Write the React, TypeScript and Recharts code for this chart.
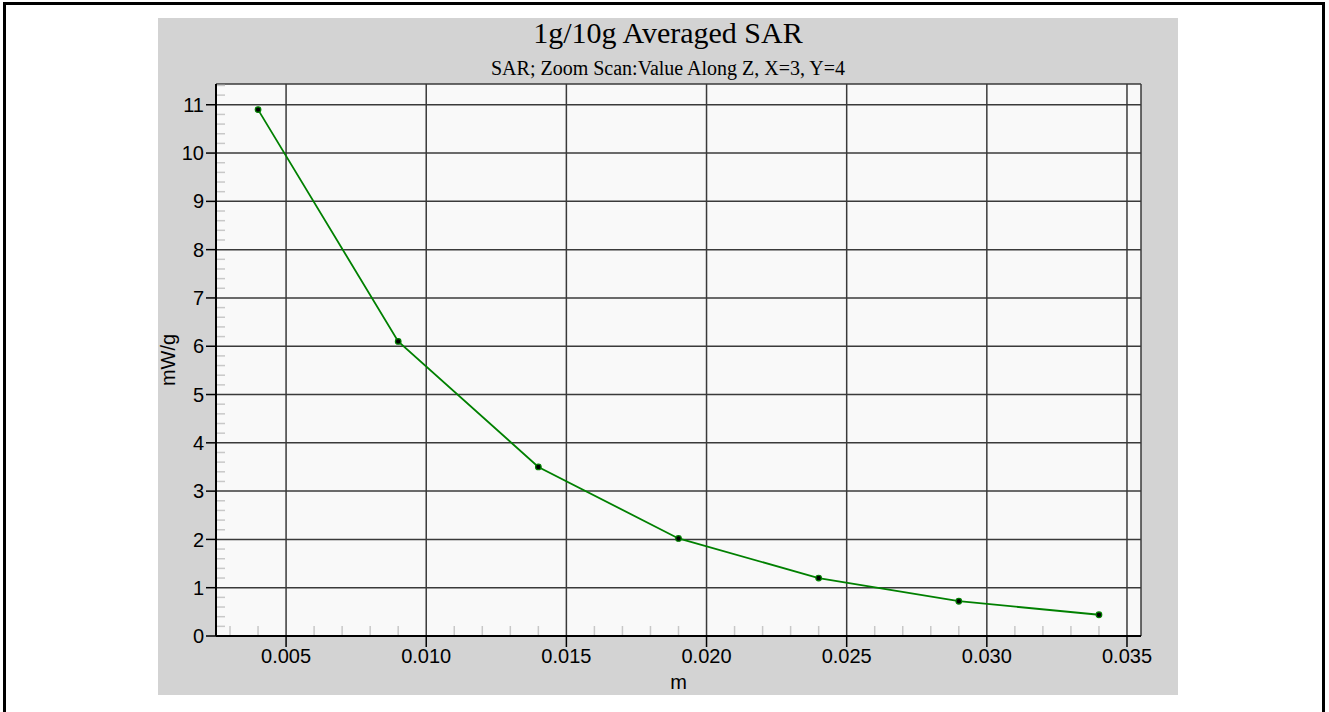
import React from 'react'
import { LineChart, Line, XAxis, YAxis, CartesianGrid } from 'recharts'

// distance along Z (m)
const zPos = [0.004, 0.009, 0.014, 0.019, 0.024, 0.029, 0.034]
// SAR (mW/g)
const sarValues = [10.9, 6.1, 3.5, 2.02, 1.2, 0.72, 0.44]

const xTicks = [0.005, 0.01, 0.015, 0.02, 0.025, 0.03, 0.035]
const xMinorTicks = [
  0.003, 0.004, 0.006, 0.007, 0.008, 0.009, 0.011, 0.012, 0.013, 0.014, 0.016, 0.017, 0.018, 0.019,
  0.021, 0.022, 0.023, 0.024, 0.026, 0.027, 0.028, 0.029, 0.031, 0.032, 0.033, 0.034,
]
const yTicks = [0, 1, 2, 3, 4, 5, 6, 7, 8, 9, 10, 11]
const yMinorTicks = [
  0.2, 0.4, 0.6, 0.8, 1.2, 1.4, 1.6, 1.8, 2.2, 2.4, 2.6, 2.8, 3.2, 3.4, 3.6, 3.8, 4.2, 4.4, 4.6, 4.8,
  5.2, 5.4, 5.6, 5.8, 6.2, 6.4, 6.6, 6.8, 7.2, 7.4, 7.6, 7.8, 8.2, 8.4, 8.6, 8.8, 9.2, 9.4, 9.6, 9.8,
  10.2, 10.4, 10.6, 10.8, 11.2, 11.4,
]

const xDomain = [0.0025, 0.0355]
const yDomain = [0, 11.43]

const data = zPos.map((x, i) => ({ x, sar: sarValues[i] }))

const SANS = '"Liberation Sans", Arial, sans-serif'
const SERIF = '"Liberation Serif", "Times New Roman", serif'
const tickStyle = { fontSize: 20, fill: '#000', fontFamily: SANS }
const minorStroke = '#c8c8c8'
const blank = () => ''

export default function App() {
  return (
    <div style={{ position: 'relative', width: 1329, height: 712, overflow: 'hidden', background: '#fff' }}>
      <style>{'body{margin:0}'}</style>
      <div
        style={{
          position: 'absolute',
          left: 3,
          top: 2,
          width: 1322,
          height: 730,
          border: '3px solid #000',
          boxSizing: 'border-box',
        }}
      />
      <div style={{ position: 'absolute', left: 158, top: 18, width: 1020, height: 677, background: '#d3d3d3' }}>
        <div
          style={{
            position: 'absolute',
            left: 0,
            top: 0,
            width: 1020,
            textAlign: 'center',
            fontFamily: SERIF,
            fontSize: 30,
            lineHeight: '30px',
            color: '#000',
          }}
        >
          1g/10g Averaged SAR
        </div>
        <div
          style={{
            position: 'absolute',
            left: 0,
            top: 40,
            width: 1020,
            textAlign: 'center',
            fontFamily: SERIF,
            fontSize: 20,
            lineHeight: '20px',
            color: '#000',
          }}
        >
          SAR; Zoom Scan:Value Along Z, X=3, Y=4
        </div>
        <LineChart
          width={1020}
          height={677}
          data={data}
          margin={{ top: 66, right: 37, left: 0, bottom: 0 }}
          style={{ position: 'absolute', left: 0, top: 0 }}
        >
          <CartesianGrid stroke="#3a3a3a" strokeWidth={1.5} fill="#f9f9f9" fillOpacity={1} />
          <XAxis
            xAxisId="minor"
            dataKey="x"
            type="number"
            domain={xDomain}
            allowDataOverflow
            ticks={xMinorTicks}
            interval={0}
            tickFormatter={blank}
            mirror
            tickSize={10}
            height={1}
            axisLine={false}
            tickLine={{ stroke: minorStroke, strokeWidth: 1.5 }}
          />
          <YAxis
            yAxisId="minor"
            type="number"
            domain={yDomain}
            allowDataOverflow
            ticks={yMinorTicks}
            interval={0}
            tickFormatter={blank}
            mirror
            tickSize={9}
            width={1}
            axisLine={false}
            tickLine={{ stroke: minorStroke, strokeWidth: 1.5 }}
          />
          <XAxis
            dataKey="x"
            type="number"
            domain={xDomain}
            allowDataOverflow
            ticks={xTicks}
            interval={0}
            tickFormatter={(v: number) => v.toFixed(3)}
            tick={tickStyle}
            tickSize={11}
            height={59}
            axisLine={{ stroke: '#000', strokeWidth: 2 }}
            tickLine={{ stroke: '#000', strokeWidth: 1.5 }}
            label={{
              content: (props: any) => {
                const vb = props.viewBox
                return (
                  <text x={vb.x + vb.width / 2} y={vb.y + 53} textAnchor="middle" fontSize={20} fontFamily={SANS} fill="#000">
                    m
                  </text>
                )
              },
            }}
          />
          <XAxis
            xAxisId="top"
            orientation="top"
            dataKey="x"
            type="number"
            domain={xDomain}
            allowDataOverflow
            height={0}
            tick={false}
            tickLine={false}
            axisLine={{ stroke: '#000', strokeWidth: 2 }}
          />
          <YAxis
            type="number"
            domain={yDomain}
            allowDataOverflow
            ticks={yTicks}
            interval={0}
            tick={tickStyle}
            tickSize={10}
            width={58}
            axisLine={{ stroke: '#000', strokeWidth: 2 }}
            tickLine={{ stroke: '#000', strokeWidth: 1.5 }}
            label={{
              content: (props: any) => {
                const vb = props.viewBox
                const cx = vb.x + 10
                const cy = vb.y + vb.height / 2
                return (
                  <text
                    x={cx}
                    y={cy}
                    transform={`rotate(-90 ${cx} ${cy})`}
                    textAnchor="middle"
                    dominantBaseline="central"
                    fontSize={20}
                    fontFamily={SANS}
                    fill="#000"
                  >
                    mW/g
                  </text>
                )
              },
            }}
          />
          <YAxis
            yAxisId="right"
            orientation="right"
            type="number"
            domain={yDomain}
            allowDataOverflow
            width={0}
            tick={false}
            tickLine={false}
            axisLine={{ stroke: '#000', strokeWidth: 2 }}
          />
          <Line
            dataKey="sar"
            stroke="#008000"
            strokeWidth={1.8}
            dot={{ r: 2.8, fill: '#000', stroke: '#008000', strokeWidth: 1.2 }}
            isAnimationActive={false}
          />
        </LineChart>
      </div>
    </div>
  )
}
